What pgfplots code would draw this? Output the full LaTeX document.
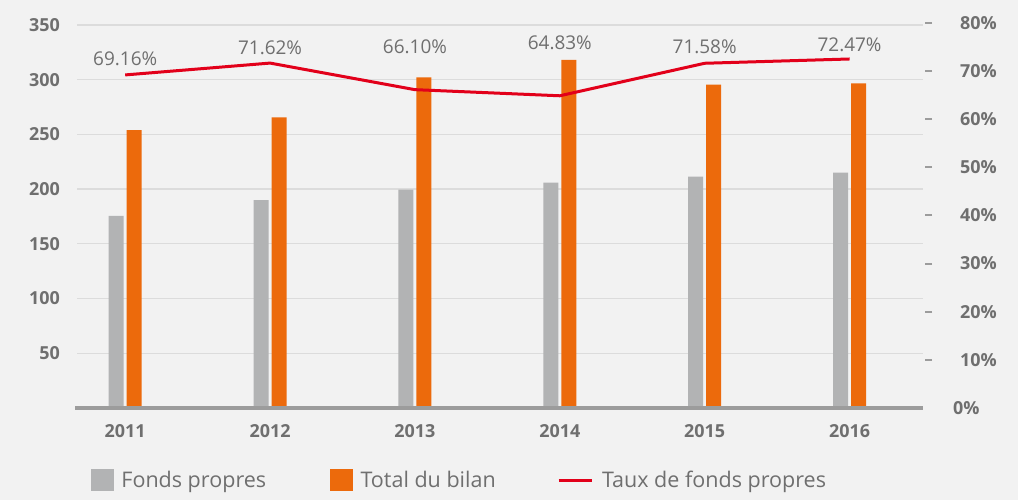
\documentclass[border=0pt]{standalone}
\usepackage{pgfplots}
\pgfplotsset{compat=1.18}
\usepackage{fontspec}
\setmainfont{Open Sans}
\definecolor{bg}{HTML}{F2F2F2}
\definecolor{barGray}{HTML}{B2B3B4}
\definecolor{barOrange}{HTML}{EC6A0C}
\definecolor{lineRed}{HTML}{E2001A}
\definecolor{txt}{HTML}{6F6F6F}
\definecolor{gridc}{HTML}{DCDCDC}
\definecolor{basec}{HTML}{9C9C9C}
\begin{document}
\begin{tikzpicture}
\fill[bg] (0,0) rectangle (1018bp,500bp);
\useasboundingbox (0,0) rectangle (1018bp,500bp);
\begin{axis}[
  at={(77bp,92bp)}, anchor=south west, scale only axis,
  width=846bp, height=386bp,
  xmin=-0.3327, xmax=5.507, ymin=0, ymax=352.7,
  axis line style={draw=none},
  clip=false,
  xtick={0,1,2,3,4,5}, xticklabels={2011,2012,2013,2014,2015,2016},
  ytick={50,100,150,200,250,300,350},
  xtick pos=bottom, ytick pos=left,
  major tick length=0pt,
  ymajorgrids, grid style={gridc, line width=1.3bp},
  /pgf/number format/assume math mode=true,
  tick label style={font=\bfseries\fontsize{18}{18}\selectfont, text=txt, inner sep=0pt},
  yticklabel style={anchor=east, xshift=-17bp},
  xticklabel style={anchor=north, yshift=-16.5bp},
  legend columns=2,
  legend style={at={(0.01655,-0.1878)}, anchor=west, draw=none, fill=none,
    inner sep=0pt, outer sep=0pt,
    font=\fontsize{21.6}{21.6}\selectfont, text=txt,
    nodes={inner sep=0pt},
    /tikz/every odd column/.append style={column sep=7.4bp},
    /tikz/every even column/.append style={column sep=64bp}},
]
\addplot[ybar, bar width=15bp, bar shift=-9bp, fill=barGray, draw=none,
  legend image code/.code={\fill[barGray] (0bp,-11bp) rectangle (23bp,11bp);}]
  coordinates {(0,175.5) (1,190) (2,199.5) (3,206) (4,211.5) (5,215)};
\addlegendentry{Fonds propres}
\addplot[ybar, bar width=15bp, bar shift=9bp, fill=barOrange, draw=none,
  legend image code/.code={\fill[barOrange] (0bp,-11bp) rectangle (23bp,11bp);}]
  coordinates {(0,254) (1,265.5) (2,302) (3,318) (4,295.5) (5,296.7)};
\addlegendentry{Total du bilan}
\draw[basec, line width=4.6bp] (rel axis cs:-0.002,0) -- (rel axis cs:1,0);
\end{axis}
\begin{axis}[
  at={(77bp,92bp)}, anchor=south west, scale only axis,
  width=846bp, height=386bp,
  xmin=-0.3327, xmax=5.507, ymin=0, ymax=80.15,
  axis line style={draw=none},
  xtick=\empty,
  ytick={10,20,30,40,50,60,70,80},
  extra y ticks={0},
  extra y tick style={major tick length=0pt},
  ytick pos=right,
  tick align=outside, major tick length=7bp,
  tick style={basec, line width=2bp, xshift=2bp},
  /pgf/number format/assume math mode=true,
  yticklabel={\pgfmathprintnumber{\tick}\%},
  tick label style={font=\bfseries\fontsize{18}{18}\selectfont, text=txt, inner sep=0pt},
  yticklabel style={anchor=west, xshift=30bp},
  legend style={at={(0.5674,-0.1878)}, anchor=west, draw=none, fill=none,
    inner sep=0pt, outer sep=0pt,
    font=\fontsize{21.6}{21.6}\selectfont, text=txt,
    nodes={inner sep=0pt},
    /tikz/every odd column/.append style={column sep=9bp}},
]
\addplot[lineRed, line width=3bp, mark=none,
  legend image code/.code={\draw[lineRed, line width=3bp] (0bp,0bp) -- (33bp,0bp);}]
  coordinates {(0,69.16) (1,71.62) (2,66.10) (3,64.83) (4,71.58) (5,72.47)};
\addlegendentry{Taux de fonds propres}
\addplot[draw=none, mark=none, nodes near coords, point meta=explicit symbolic,
  nodes near coords style={anchor=center, font=\fontsize{19}{19}\selectfont, text=txt, inner sep=0pt}]
  coordinates {(0,72.53) [69.16\%] (1,74.75) [71.62\%] (2,74.96) [66.10\%]
               (3,75.9) [64.83\%] (4,75.1) [71.58\%] (5,75.48) [72.47\%]};
\end{axis}
\end{tikzpicture}
\end{document}
